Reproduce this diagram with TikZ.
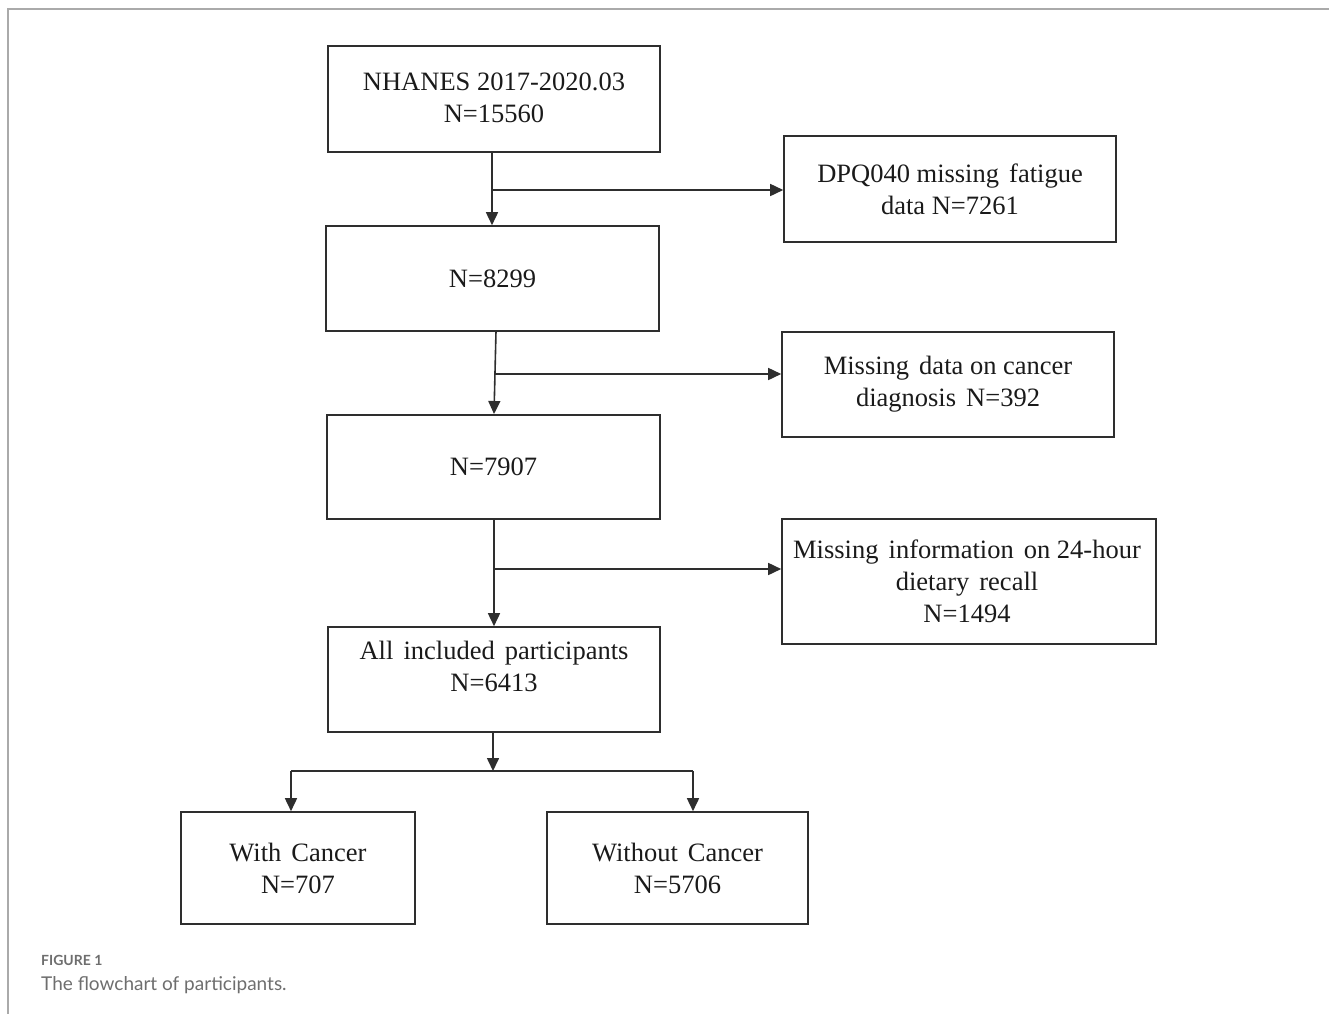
\documentclass[tikz,border=0pt]{standalone}
\usepackage{fontspec}
\setmainfont{Liberation Serif}
\newfontfamily\capfont{Lato}
\usetikzlibrary{arrows.meta}
\definecolor{boxline}{HTML}{2E2E2E}
\definecolor{framegray}{HTML}{AAAAAA}
\definecolor{capgray}{HTML}{6E6E6E}
\definecolor{txtcol}{HTML}{1A1A1A}
\newcommand{\wsp}{\hspace{0.38em}}
\begin{document}
\begin{tikzpicture}[x=1pt,y=1pt,
  box/.style={draw=boxline, line width=1.6pt, rectangle, inner sep=0pt},
  txt/.style={align=center, text=txtcol, font=\fontsize{26.5}{32}\selectfont, inner sep=0pt},
  arr/.style={draw=boxline, line width=1.6pt, -{Triangle[length=13pt,width=12pt]}},
  ln/.style={draw=boxline, line width=1.6pt}
]
\useasboundingbox (0,0) rectangle (1329,-1014);
% frame
\draw[framegray, line width=1.5pt] (1329,-9) -- (8,-9) -- (8,-1014);

% main boxes
\node[box, minimum width=332pt, minimum height=106pt] (b1) at (494,-99) {};
\node[txt] (t1) at (494,-98) {NHANES 2017-2020.03\\N=15560};
\node[box, minimum width=333pt, minimum height=105pt] (b2) at (492.5,-278.5) {};
\node[txt] (t2) at (492.5,-279) {N=8299};
\node[box, minimum width=333pt, minimum height=104pt] (b3) at (493.5,-467) {};
\node[txt] (t3) at (493.5,-467) {N=7907};
\node[box, minimum width=332pt, minimum height=105pt] (b4) at (494,-679.5) {};
\node[txt] (t4) at (494,-666) {All\wsp included\wsp participants\\N=6413};
\node[box, minimum width=234pt, minimum height=112pt] (b5) at (298,-868) {};
\node[txt] (t5) at (298,-868.5) {With\wsp Cancer\\N=707};
\node[box, minimum width=261pt, minimum height=112pt] (b6) at (677.5,-868) {};
\node[txt] (t6) at (677.5,-868.5) {Without\wsp Cancer\\N=5706};

% side boxes
\node[box, minimum width=332pt, minimum height=106pt] (s1) at (950,-189) {};
\node[txt] (u1) at (950,-189.5) {DPQ040 missing\wsp fatigue\\data N=7261};
\node[box, minimum width=332pt, minimum height=105pt] (s2) at (948,-384.5) {};
\node[txt] (u2) at (948,-384.5) {Missing\wsp data on cancer\\diagnosis\wsp N=392};
\node[box, minimum width=374pt, minimum height=125pt] (s3) at (969,-581.5) {};
\node[txt] (u3) at (967,-581) {Missing\wsp information\wsp on 24-hour\\dietary\wsp recall\\N=1494};

% connectors
\coordinate (c1) at (492,-190);
\draw[arr] (b1.south -| c1) -- (b2.north -| c1);
\draw[arr] (c1) -- (s1.west |- c1);

\coordinate (c2) at (495,-374);
\draw[arr] (496,-331) -- (494,-414);
\draw[arr] (c2) -- (s2.west |- c2);

\coordinate (c3) at (494,-569);
\draw[arr] (b3.south -| c3) -- (b4.north -| c3);
\draw[arr] (c3) -- (s3.west |- c3);

\coordinate (c4) at (493,-771);
\coordinate (cl) at (291,-771);
\coordinate (cr) at (693,-771);
\draw[arr] (b4.south -| c4) -- (c4);
\draw[ln] (cl) -- (cr);
\draw[arr] (cl) -- (b5.north -| cl);
\draw[arr] (cr) -- (b6.north -| cr);

% caption
\node[anchor=base west, inner sep=0pt, text=capgray, font=\capfont\bfseries\fontsize{14}{16}\selectfont] (f1) at (41,-965) {FIGURE 1};
\node[anchor=base west, inner sep=0pt, text=capgray, font=\capfont\fontsize{19}{22}\selectfont] (f2) at (41,-990) {The flowchart of participants.};
\end{tikzpicture}
\end{document}
